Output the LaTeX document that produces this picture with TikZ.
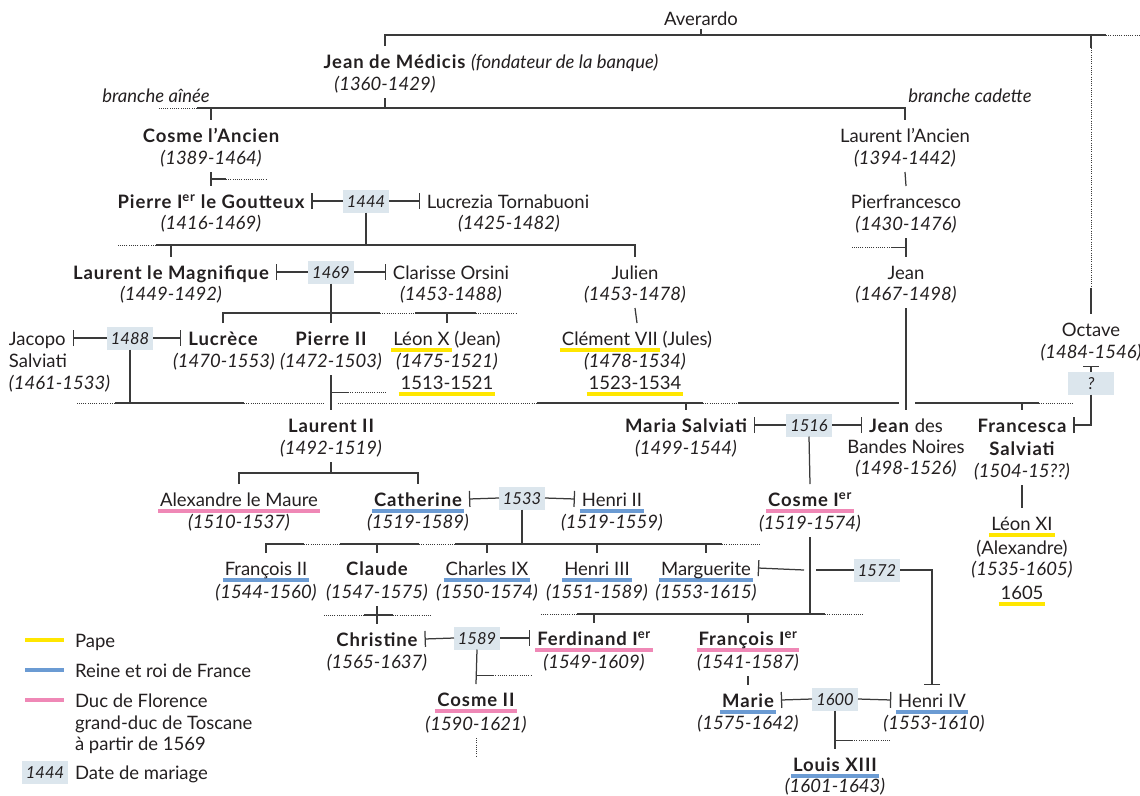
\documentclass[tikz,border=0pt]{standalone}
\usepackage{fontspec}
\setmainfont{Lato}[BoldFeatures={LetterSpace=5}]
\usepackage{tikz}
\usetikzlibrary{arrows.meta,calc}
\definecolor{ink}{HTML}{231F20}
\definecolor{wire}{HTML}{3A3A3A}
\definecolor{pape}{HTML}{FFE600}
\definecolor{roi}{HTML}{6B9BD3}
\definecolor{duc}{HTML}{EF88B6}
\definecolor{wed}{HTML}{DCE6ED}
% coloured bar under a name
\newcommand\hili[2]{\setbox0=\hbox{#2}\kern-2pt\rlap{\color{#1}\rule[-6.5pt]{\dimexpr\wd0+4pt\relax}{4pt}}\kern2pt\box0\relax}
\tikzset{
  person/.style={font=\fontsize{18.5}{22}\selectfont,text=ink,text height=18pt,text depth=4pt,
    inner xsep=2pt,inner ysep=1pt,outer xsep=5pt,outer ysep=3pt},
  royal/.style={person,font=\fontsize{18.5}{22}\selectfont\bfseries},
  years/.style={person,font=\fontsize{18.5}{22}\selectfont\itshape},
  wedding/.style={fill=wed,text=ink,font=\fontsize{16.5}{18}\selectfont\itshape,
    minimum width=46pt,minimum height=23pt,inner sep=0pt,outer sep=0pt,text height=12pt,text depth=0pt},
  kin/.style={draw=wire,line width=1.25pt},
  trail/.style={draw=wire,line width=1pt,dash pattern=on 1pt off 1.2pt},
  marry/.style={kin,{Bar[width=16pt]}-},
  marryto/.style={kin,-{Bar[width=16pt]}},
  legtext/.style={person,anchor=west,inner xsep=0pt,outer xsep=0pt}
}
\begin{document}
\begin{tikzpicture}[x=1pt,y=-1pt]
\useasboundingbox (0,0) rectangle (1140,795);

% --- founders
\node[person] (averardo) at (701,18) {Averardo};
\node[person] (jean) at (491,61) {\textbf{Jean de Médicis} \textit{(fondateur de la banque)}};
\node[years] (jeany) at (385,83) {(1360-1429)};
\node[years] (ainee) at (156,95) {branche aînée};
\node[years] (cadette) at (970,95) {branche cadette};

\node[royal] (cosme) at (211,135) {Cosme l’Ancien};
\node[years] (cosmey) at (211,157) {(1389-1464)};
\node[person] (laurenta) at (905,135) {Laurent l’Ancien};
\node[years] (laurentay) at (905,157) {(1394-1442)};

\node[royal] (pierre) at (211,201) {Pierre I\textsuperscript{er} le Goutteux};
\node[years] (pierrey) at (211,222) {(1416-1469)};
\node[wedding] (m1444) at (366,201) {1444};
\node[person] (lucrezia) at (508,201) {Lucrezia Tornabuoni};
\node[years] (lucreziay) at (509,222) {(1425-1482)};
\node[person] (pierfr) at (906,201) {Pierfrancesco};
\node[years] (pierfry) at (906,223) {(1430-1476)};

\node[royal] (laurentm) at (171,272) {Laurent le Magnifique};
\node[years] (laurentmy) at (171,293) {(1449-1492)};
\node[wedding] (m1469) at (331,272) {1469};
\node[person] (clarisse) at (451,272) {Clarisse Orsini};
\node[years] (clarissey) at (451,293) {(1453-1488)};
\node[person] (julien) at (635,272) {Julien};
\node[years] (julieny) at (635,293) {(1453-1478)};
\node[person] (jeanp) at (906,272) {Jean};
\node[years] (jeanpy) at (906,293) {(1467-1498)};

% --- row of Lucrece and Pierre II
\node[person,anchor=west] (jacopo) at (2,338) {Jacopo};
\node[person,anchor=west] (jacopos) at (2,360) {Salviati};
\node[years,anchor=west] (jacopoy) at (2,382) {(1461-1533)};
\node[wedding] (m1488) at (130,338) {1488};
\node[royal] (lucrece) at (223,338) {Lucrèce};
\node[years] (lucrecey) at (224,360) {(1470-1553)};
\node[royal] (pierre2) at (331,338) {Pierre II};
\node[years] (pierre2y) at (331,360) {(1472-1503)};
\node[person] (leonx) at (447,338) {\hili{pape}{Léon X} (Jean)};
\node[years] (leonxy) at (447,360) {(1475-1521)};
\node[person] (leonxp) at (447,382) {\hili{pape}{1513-1521}};
\node[person] (clement) at (637,338) {\hili{pape}{Clément VII} (Jules)};
\node[years] (clementy) at (635,360) {(1478-1534)};
\node[person] (clementp) at (635,382) {\hili{pape}{1523-1534}};
\node[person] (octave) at (1091,329) {Octave};
\node[years] (octavey) at (1091,351) {(1484-1546)};
\node[wedding] (mq) at (1091,383) {?};

\node[royal] (laurent2) at (331,425) {Laurent II};
\node[years] (laurent2y) at (331,447) {(1492-1519)};
\node[royal] (maria) at (686,425) {Maria Salviati};
\node[years] (mariay) at (686,447) {(1499-1544)};
\node[wedding] (m1516) at (809,425) {1516};
\node[person] (jeanbn) at (906,425) {\textbf{Jean} des};
\node[person] (jeanbn2) at (906,446) {Bandes Noires};
\node[years] (jeanbny) at (906,467) {(1498-1526)};
\node[royal] (francesca) at (1022,425) {Francesca};
\node[royal] (francesca2) at (1022,448) {Salviati};
\node[years] (francescay) at (1022,470) {(1504-15??)};

\node[person] (alexandre) at (239,499) {\hili{duc}{Alexandre le Maure}};
\node[years] (alexandrey) at (239,521) {(1510-1537)};
\node[royal] (catherine) at (418,499) {\hili{roi}{Catherine}};
\node[years] (catheriney) at (418,521) {(1519-1589)};
\node[wedding] (m1533) at (522,498) {1533};
\node[person] (henri2) at (612,499) {\hili{roi}{Henri II}};
\node[years] (henri2y) at (612,521) {(1519-1559)};
\node[royal] (cosme1) at (810,499) {\hili{duc}{Cosme I\textsuperscript{er}}};
\node[years] (cosme1y) at (810,522) {(1519-1574)};
\node[person] (leonxi) at (1022,523) {\hili{pape}{Léon XI}};
\node[person] (leonxia) at (1022,547) {(Alexandre)};
\node[years] (leonxiy) at (1022,568) {(1535-1605)};
\node[person] (leonxip) at (1022,592) {\hili{pape}{1605}};

% --- children of Catherine
\node[person] (francois2) at (266,568) {\hili{roi}{François II}};
\node[years] (francois2y) at (266,591) {(1544-1560)};
\node[royal] (claude) at (377,568) {Claude};
\node[years] (claudey) at (377,591) {(1547-1575)};
\node[person] (charles9) at (487,568) {\hili{roi}{Charles IX}};
\node[years] (charles9y) at (487,591) {(1550-1574)};
\node[person] (henri3) at (597,568) {\hili{roi}{Henri III}};
\node[years] (henri3y) at (597,591) {(1551-1589)};
\node[person] (marguerite) at (706,568) {\hili{roi}{Marguerite}};
\node[years] (margueritey) at (706,591) {(1553-1615)};
\node[wedding] (m1572) at (877,570) {1572};

\node[royal] (christine) at (377,639) {Christine};
\node[years] (christiney) at (377,661) {(1565-1637)};
\node[wedding] (m1589) at (477,638) {1589};
\node[royal] (ferdinand) at (594,638) {\hili{duc}{Ferdinand I\textsuperscript{er}}};
\node[years] (ferdinandy) at (594,661) {(1549-1609)};
\node[royal] (francois1) at (748,638) {\hili{duc}{François I\textsuperscript{er}}};
\node[years] (francois1y) at (748,661) {(1541-1587)};

\node[royal] (cosme2) at (476,699) {\hili{duc}{Cosme II}};
\node[years] (cosme2y) at (476,723) {(1590-1621)};
\node[royal] (marie) at (748,700) {\hili{roi}{Marie}};
\node[years] (mariey) at (748,722) {(1575-1642)};
\node[wedding] (m1600) at (835,699) {1600};
\node[person] (henri4) at (932,700) {\hili{roi}{Henri IV}};
\node[years] (henri4y) at (934,722) {(1553-1610)};
\node[royal] (louis13) at (835,764) {\hili{roi}{Louis XIII}};
\node[years] (louis13y) at (835,785) {(1601-1643)};

% --- top lines
\coordinate (b0) at (1106,35);
\draw[kin] (jean.north -| jeany) |- (b0);
\draw[trail] (b0) -- ++(34,0);
\draw[kin] (averardo |- b0) -- ++(0,-6);
\draw[kin] (octave |- b0) -- ++(0,13) coordinate (o1);
\draw[trail] (o1) -- (octave |- 0,288) coordinate (o2);
\draw[kin] (o2) -- (octave.north);

\coordinate (b1) at (197,108);
\draw[trail] (b1) -- ++(-38,0);
\draw[kin] (b1) -| (laurenta.north);
\draw[kin] (jeany.south) -- (jeany |- b1);
\draw[kin] (cosme.north |- b1) -- (cosme.north);

\draw[kin] (cosmey.south) -- (pierre.north) coordinate[midway] (cw);
\draw[kin] (cw) -- ++(15,0) coordinate (cw2);
\draw[trail] (cw2) -- ++(40,0);
\draw[kin] (laurentay.south) -- (pierfr.north);
\draw[kin] (pierfry.south) -- (jeanp.north) coordinate[midway] (pw);
\draw[kin] (pw) -- ++(-14,0) coordinate (pw2);
\draw[trail] (pw2) -- ++(-40,0);

% --- marriages and children
\draw[marry] (pierre.east) -- (m1444.west);
\draw[marryto] (m1444.east) -- (lucrezia.west);
\coordinate (b2) at (156,245);
\draw[trail] (b2) -- ++(-38,0);
\draw[kin] (b2) -| (julien.north);
\draw[kin] (m1444.south) -- (m1444 |- b2);
\draw[kin] (laurentm.north |- b2) -- (laurentm.north);

\draw[marry] (laurentm.east) -- (m1469.west);
\draw[marryto] (m1469.east) -- (clarisse.west);
\coordinate (b3) at (380,313);
\draw[kin] (lucrece.north) |- (b3);
\draw[trail] (b3) -- ++(35,0) coordinate (b3a);
\draw[kin] (b3a) -- ++(61,0) coordinate (b3b);
\draw[trail] (b3b) -- ++(40,0);
\draw[kin] (m1469.south) -- (pierre2.north);
\draw[kin] (leonx.north |- b3) -- (leonx.north);
\draw[kin] (julieny.south) -- (clement.north);

\draw[marry] (jacopo.east) -- (m1488.west);
\draw[marryto] (m1488.east) -- (lucrece.west);
\coordinate (b4) at (115,403);
\draw[trail] (b4) -- ++(-39,0);
\draw[kin] (b4) -- ++(129,0) coordinate (b4a);
\draw[trail] (b4a) -- ++(81,0);
\draw[kin] (m1488.south) -- (m1488 |- b4);
\draw[trail] ($(pierre2 |- b4)+(7,0)$) -- ++(199,0) coordinate (b4b);
\draw[kin] (b4b) -- ++(166,0) coordinate (b4c);
\draw[trail] (b4c) -- ++(35,0) coordinate (b4d);
\draw[kin] (b4d) -- ($(jeanpy |- b4)+(-7,0)$);
\draw[kin] ($(jeanpy |- b4)+(9,0)$) -- ++(124,0) coordinate (b4e);
\draw[trail] (b4e) -- ++(35,0);
\draw[kin] (maria.north |- b4) -- (maria.north);
\draw[kin] (francesca.north |- b4) -- (francesca.north);
\draw[kin] (jeanpy.south) -- (jeanbn.north);

\draw[kin] (pierre2y.south) -- (laurent2.north) coordinate[midway] (pw3);
\draw[kin] (pw3) -- ++(17,0) coordinate (pw4);
\draw[trail] (pw4) -- ++(38,0);

\draw[marry] (octavey.south) -- (mq.north);
\draw[marryto] (mq.south) |- (francesca.east);
\draw[kin] (francescay.south) -- (leonxi.north);

\draw[marry] (maria.east) -- (m1516.west);
\draw[marryto] (m1516.east) -- (jeanbn.west);
\draw[kin] (m1516.south) -- (cosme1.north);

\coordinate (b5) at (331,473);
\draw[kin] (laurent2y.south) -- (b5);
\draw[kin] (alexandre.north) |- (b5) -| (catherine.north);

\draw[marry] (catherine.east) -- (m1533.west);
\draw[marryto] (m1533.east) -- (henri2.west);
\coordinate (b6) at (266,544);
\draw[kin] (francois2.north) -- (francois2.north |- b6) -- ++(38,0) coordinate (b6a);
\draw[trail] (b6a) -- ++(36,0) coordinate (b6b);
\draw[kin] (b6b) -- ++(79,0) coordinate (b6c);
\draw[trail] (b6c) -- ++(36,0) coordinate (b6d);
\draw[kin] (b6d) -- ++(267,0) coordinate (b6e);
\draw[trail] (b6e) -- ++(39,0);
\draw[kin] (m1533.south) -- (m1533 |- b6);
\foreach \k in {claude,charles9,henri3,marguerite}
  \draw[kin] (\k.north |- b6) -- (\k.north);

\draw[marry] (marguerite.east) -- ($(cosme1y |- m1572)+(-6,0)$);
\draw[kin] ($(cosme1y |- m1572)+(6,0)$) -- (m1572.west);
\draw[marryto] (m1572.east) -| (henri4.north);

\coordinate (b7) at (577,614);
\draw[kin] (cosme1y.south) -- (cosme1y |- b7);
\draw[trail] (b7) -- ++(-36,0);
\draw[kin] (b7) -- ++(248,0) coordinate (b7a);
\draw[trail] (b7a) -- ++(39,0);
\draw[kin] (ferdinand.north |- b7) -- (ferdinand.north);
\draw[kin] (francois1.north |- b7) -- (francois1.north);

\draw[kin] (claudey.south) -- (christine.north) coordinate[midway] (cc);
\draw[kin] ([xshift=-13pt]cc) -- ([xshift=16pt]cc);
\draw[trail] ([xshift=-13pt]cc) -- ++(-40,0);
\draw[trail] ([xshift=16pt]cc) -- ++(39,0);

\draw[marry] (christine.east) -- (m1589.west);
\draw[marryto] (m1589.east) -- (ferdinand.west);
\draw[kin] (m1589.south) -- (cosme2.north) coordinate[pos=0.75] (cw3);
\draw[kin] (cw3) -- ++(17,0) coordinate (cw4);
\draw[trail] (cw4) -- ++(38,0);
\draw[trail] (cosme2y.south) -- ++(0,18);

\draw[kin] (francois1y.south) -- (marie.north);
\draw[marry] (marie.east) -- (m1600.west);
\draw[marryto] (m1600.east) -- (henri4.west);
\draw[kin] (m1600.south) -- (louis13.north) coordinate[pos=0.78] (lw);
\draw[kin] (lw) -- ++(17,0) coordinate (lw2);
\draw[trail] (lw2) -- ++(38,0);

% --- legend
\node[legtext] (lpape) at (75,640) {Pape};
\node[legtext] (lroi) at (75,670) {Reine et roi de France};
\node[legtext] (lduc) at (75,700) {Duc de Florence};
\node[legtext] (lduc2) at (75,722) {grand-duc de Toscane};
\node[legtext] (lduc3) at (75,743) {à partir de 1569};
\node[wedding] (lwed) at (45,772) {1444};
\node[legtext] (lwedt) at (75,772) {Date de mariage};
\foreach \c/\n in {pape/lpape,roi/lroi,duc/lduc}
  \draw[\c,line width=4.5pt] ([xshift=-50pt]\n.west) -- ([xshift=-11pt]\n.west);
\end{tikzpicture}
\end{document}
